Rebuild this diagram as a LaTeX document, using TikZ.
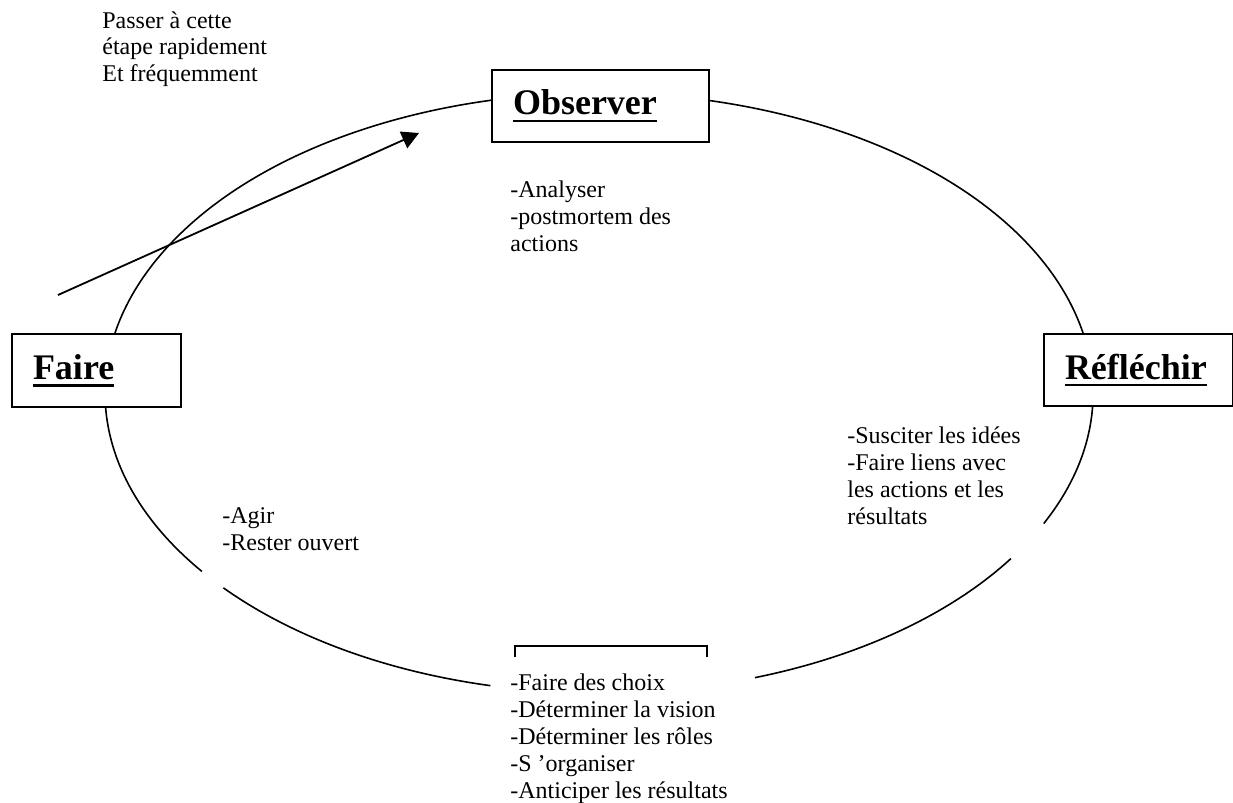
\documentclass[tikz,border=0pt]{standalone}
\usepackage{fontspec}
\setmainfont{Liberation Serif}
\usetikzlibrary{arrows.meta}

% titre souligne en gras
\newcommand{\titre}[1]{\noindent\setbox0\hbox{#1}\rlap{\copy0}\rule[-3.65pt]{\wd0}{1.3pt}}

\begin{document}
\begin{tikzpicture}[x=0.5pt, y=-0.5pt,
    boite/.style={draw, line width=1pt, fill=white, anchor=north west, inner xsep=10.5pt, inner ysep=0pt, align=left, font=\fontsize{18}{21}\selectfont\bfseries},
    liste/.style={inner sep=0pt, anchor=base west, align=left, font=\fontsize{12}{13.5}\selectfont},
    cycle/.style={line width=0.8pt}]

            % \draw [help lines, step=50] (0,0) grid (1233,803);
            \useasboundingbox (0,0) rectangle (1233,803);

            \coordinate (c) at (599,393);

            % le cycle, coupe par les zones de texte
            \draw[cycle] (c) ++(25.8:494 and 300) arc[start angle=25.8, end angle=-216.5, x radius=494, y radius=300];
            \draw[cycle] (c) ++(139.5:494 and 300) arc[start angle=139.5, end angle=102.7, x radius=494, y radius=300];
            \draw[cycle] (c) ++(71.6:494 and 300) arc[start angle=71.6, end angle=33.5, x radius=494, y radius=300];

            \path   (491,69) node (observer) [boite, text width=87.5pt, minimum height=36pt] {\titre{Observer}}
                    (11,333) node (faire) [boite, text width=63.5pt, minimum height=36.5pt] {\titre{Faire}}
                    (1043,333) node (reflechir) [boite, text width=73.5pt, minimum height=36pt] {\titre{Réfléchir}};

            % ancrage sur la ligne de base de la derniere ligne
            \path   (102,82) node (passer) [liste] {Passer à cette\\étape rapidement\\Et fréquemment}
                    (510,251) node (analyser) [liste] {-Analyser\\-postmortem des\\actions}
                    (847,524) node (susciter) [liste] {-Susciter les idées\\-Faire liens avec\\les actions et les\\résultats}
                    (222,550) node (agir) [liste] {-Agir\\-Rester ouvert}
                    (510,798) node (choix) [liste] {-Faire des choix\\-Déterminer la vision\\-Déterminer les rôles\\-S ’organiser\\-Anticiper les résultats};

            \draw[line width=1pt] (515,657) -- (515,646) -- (707,646) -- (707,657);

            \coordinate (depart) at (58,295);
            \coordinate (arrivee) at (419,133);
            \draw[line width=0.9pt, arrows = -{Triangle[length=8.5pt, width=9pt]}] (depart) -- (arrivee);
\end{tikzpicture}
\end{document}
